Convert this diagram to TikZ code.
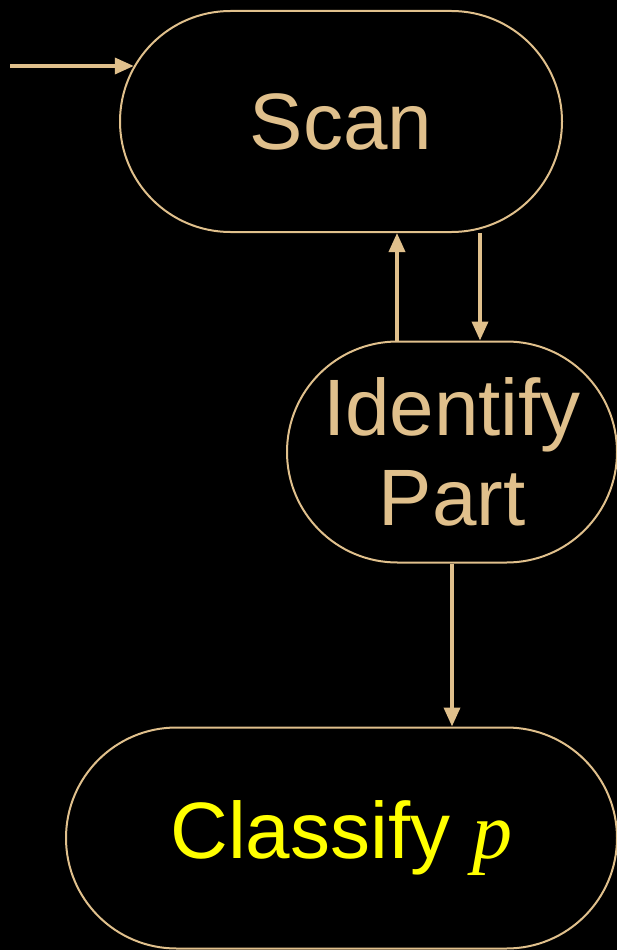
\documentclass[tikz,border=0pt]{standalone}
\usepackage{fontspec}
\setmainfont{Liberation Sans}
\newfontfamily\serifp{Liberation Serif}
\usetikzlibrary{shapes.misc,arrows.meta}
\definecolor{linetan}{RGB}{224,192,140}
\definecolor{textyel}{RGB}{255,255,0}
\begin{document}
\begin{tikzpicture}[x=1pt,y=-1pt,
  stad/.style={rounded rectangle,draw=linetan,line width=2pt,inner sep=0pt,
    minimum height=221pt,text=linetan,align=center,
    font=\fontsize{80}{90}\selectfont},
  arr/.style={draw=linetan,line width=3.6pt,-{Triangle[length=19pt,width=16pt]}}]
\useasboundingbox (0,0) rectangle (617,950);
\fill[black] (0,0) rectangle (617,950);
% the three stages
\node[stad,minimum width=442pt] (scan) at (341,121.5) {Scan};
\node[stad,minimum width=330pt] (ident) at (452,452) {Identify\\Part};
\node[stad,minimum width=551pt,text=textyel] (classify) at (341.5,838)
  {Classify {\serifp\itshape p}};
% connectors
\coordinate (in) at (10,68);
\draw[arr] (in |- scan.165.5) -- (scan.165.5);
\draw[arr] ([xshift=-55pt]ident.north) -- ([xshift=-55pt]ident.north |- scan.south);
\draw[arr] ([xshift=28pt]ident.north |- scan.south) -- ([xshift=28pt]ident.north);
\draw[arr] (ident.south) -- (ident.south |- classify.north);
\end{tikzpicture}
\end{document}
